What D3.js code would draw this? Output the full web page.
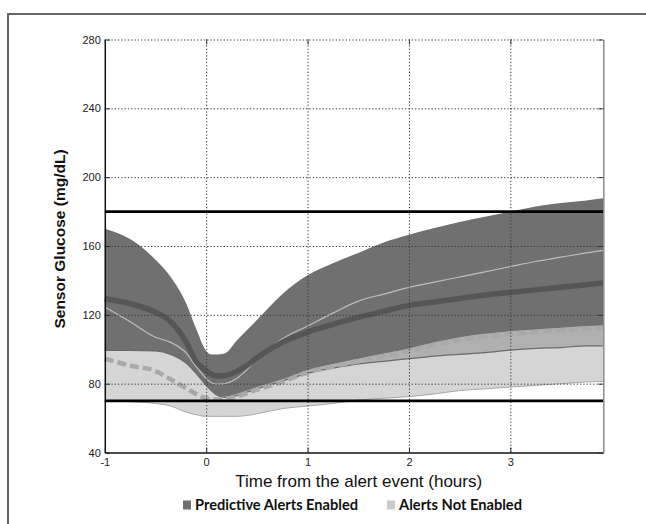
<!DOCTYPE html>
<html>
<head>
<meta charset="utf-8">
<script src="https://cdn.jsdelivr.net/npm/d3@7/dist/d3.min.js"></script>
<style>
  html, body { margin: 0; padding: 0; background: #fff; overflow: hidden; }
  svg { display: block; }
</style>
</head>
<body>
<svg id="chart" width="646" height="524"></svg>
<script>
// ---- data (hours from alert event, sensor glucose mg/dL) ----
const hours = [-1, -0.75, -0.5, -0.35, -0.2, -0.1, 0, 0.05, 0.1, 0.18, 0.3, 0.4, 0.5, 0.75, 1, 1.25, 1.5, 1.75, 2, 2.25, 2.5, 2.75, 3, 3.25, 3.5, 3.75, 3.917];

// Predictive Alerts Enabled band (dark)
const enabledUpper = [170, 164, 152, 142, 127, 112, 99, 97, 97, 97.5, 105, 111, 117, 132, 143, 150, 156, 162, 166.5, 170.5, 174, 177, 180, 183, 185, 186.5, 187.7];
const enabledLower = [99.3, 99.3, 99, 97, 92, 86, 79, 76, 73.5, 72, 73, 75, 77, 81.5, 86, 89, 91.5, 93, 94.5, 96, 97, 98, 99.5, 100.5, 101, 102, 102];
// Alerts Not Enabled band (light)
const notEnabledUpper = [99.3, 99.3, 99, 97, 92, 86, 79, 76, 73.5, 72.5, 74, 76, 78, 82.5, 88, 91.5, 94.5, 97.5, 100.5, 104, 107, 109, 110.5, 111.5, 112.5, 113.5, 114];
const notEnabledLower = [70, 69.5, 68.5, 67, 63.5, 62, 61, 61, 61, 61, 61, 61.5, 62.5, 65.5, 67, 68.5, 70.5, 71.5, 72.5, 74, 76, 77, 78, 79, 80, 81, 81.3];
// central curves
const enabledMedian = [129.5, 126.5, 121.5, 116, 104.5, 93, 87.5, 85.5, 84.5, 84.8, 87, 90.5, 95, 104, 110, 114.5, 118.5, 122, 125.5, 127.5, 129.5, 131.5, 133, 134.5, 136, 137.5, 138.5];
const enabledThin = [124.5, 116, 107, 104, 98, 90, 83, 80.5, 79.8, 80, 83, 88, 94, 106, 113.5, 121, 128, 132, 136, 139, 142, 145, 148, 151, 153.5, 156, 157.5];
const notEnabledMedian = [94.5, 90.5, 87.3, 82.5, 77.5, 74, 71.5, 71, 70.8, 71, 72.5, 74.5, 76.5, 81, 86.5, 90, 93, 96, 99, 102.5, 105.5, 107.5, 109, 110, 111, 112, 112.5];

// thresholds and ticks
const thresholds = [180, 70];
const yTicks = [40, 80, 120, 160, 200, 240, 280];
const xTicks = [-1, 0, 1, 2, 3];
const legendLabels = ["Predictive Alerts Enabled", "Alerts Not Enabled"];
const xTitle = "Time from the alert event (hours)";
const yTitle = "Sensor Glucose (mg/dL)";

// ---- drawing ----
const svg = d3.select("#chart");
const L = 104.8, R = 603.3, T = 39.5, B = 452.5;
const x = d3.scaleLinear().domain([-1, 3.917]).range([L, R]);
const y = d3.scaleLinear().domain([40, 280]).range([B, T]);

// outer frame (left and top edges visible only)
svg.append("path").attr("d", "M8,530V14H660").attr("fill", "none")
  .attr("stroke", "#666").attr("stroke-width", 2);

const DARK = "#707070";
const idx = d3.range(hours.length);
const curve = d3.curveMonotoneX;

const area = (lo, hi) => d3.area().curve(curve)
  .x(i => x(hours[i])).y0(i => y(lo[i])).y1(i => y(hi[i]));
const line = (v) => d3.line().curve(curve).x(i => x(hours[i])).y(i => y(v[i]));

const plot = svg.append("g");
plot.append("path").attr("d", area(enabledLower, enabledUpper)(idx)).attr("fill", DARK);
plot.append("path").attr("d", area(notEnabledLower, notEnabledUpper)(idx))
  .attr("fill", "rgb(199,199,199)").attr("fill-opacity", 0.745);
plot.append("path").attr("d", line(enabledLower)(idx)).attr("fill", "none")
  .attr("stroke", "#6a6a6a").attr("stroke-width", 1.2);
plot.append("path").attr("d", line(notEnabledLower)(idx)).attr("fill", "none")
  .attr("stroke", "#a8a8a8").attr("stroke-width", 1);

// grid
const grid = svg.append("g");
grid.append("g").attr("transform", `translate(${L},0)`)
  .call(d3.axisLeft(y).tickValues(yTicks.slice(1)).tickSize(-(R - L)).tickFormat(""))
  .call(g => g.select(".domain").remove())
  .selectAll("line").attr("stroke", "#3a3a3a").attr("stroke-dasharray", "1.3,2").attr("stroke-width", 1);
grid.append("g").attr("transform", `translate(0,${B})`)
  .call(d3.axisBottom(x).tickValues(xTicks.slice(1)).tickSize(-(B - T)).tickFormat(""))
  .call(g => g.select(".domain").remove())
  .selectAll("line").attr("stroke", "#3a3a3a").attr("stroke-dasharray", "1.3,2").attr("stroke-width", 1);

// curves
plot.append("path").attr("d", line(enabledThin)(idx)).attr("fill", "none")
  .attr("stroke", "#bdbdbd").attr("stroke-width", 1.2);
plot.append("path").attr("d", line(enabledMedian)(idx)).attr("fill", "none")
  .attr("stroke", "#565656").attr("stroke-width", 5.5);
plot.append("path").attr("d", line(notEnabledMedian)(idx)).attr("fill", "none")
  .attr("stroke", "#a9a9a9").attr("stroke-width", 4.5).attr("stroke-dasharray", "9,4");

// thresholds
svg.append("g").selectAll("line").data(thresholds).join("line")
  .attr("x1", L).attr("x2", R).attr("y1", d => y(d)).attr("y2", d => y(d))
  .attr("stroke", "#000").attr("stroke-width", 2.6);

// axes
const fontTick = "'Liberation Sans', Arial, sans-serif";
const fmt = d => String(d);
const ax = svg.append("g");
ax.append("g").attr("transform", `translate(${L},0)`)
  .call(d3.axisLeft(y).tickValues(yTicks).tickSize(-5).tickSizeOuter(0).tickPadding(4).tickFormat(fmt))
  .call(g => g.selectAll("text").attr("font-family", fontTick).attr("font-size", 11).attr("fill", "#222"))
  .call(g => g.select(".domain").attr("stroke", "#111").attr("stroke-width", 1.5))
  .call(g => g.selectAll("line").attr("stroke", "#222"));
ax.append("g").attr("transform", `translate(0,${B})`)
  .call(d3.axisBottom(x).tickValues(xTicks).tickSize(-5).tickSizeOuter(0).tickPadding(6).tickFormat(fmt))
  .call(g => g.selectAll("text").attr("font-family", fontTick).attr("font-size", 11).attr("fill", "#222"))
  .call(g => g.select(".domain").attr("stroke", "#111").attr("stroke-width", 1.5))
  .call(g => g.selectAll("line").attr("stroke", "#222"));
ax.append("g").attr("transform", `translate(${R},0)`)
  .call(d3.axisRight(y).tickValues(yTicks).tickSize(-5).tickSizeOuter(0).tickFormat(""))
  .call(g => g.select(".domain").attr("stroke", "#8a8a8a").attr("stroke-width", 1.5))
  .call(g => g.selectAll("line").attr("stroke", "#333"));
ax.append("g").attr("transform", `translate(0,${T})`)
  .call(d3.axisTop(x).tickValues(xTicks).tickSize(-5).tickSizeOuter(0).tickFormat(""))
  .call(g => g.select(".domain").remove())
  .call(g => g.selectAll("line").attr("stroke", "#333"));

// titles
svg.append("text").attr("x", 358.7).attr("y", 487).attr("text-anchor", "middle")
  .attr("font-family", fontTick).attr("font-size", 17).attr("fill", "#111").text(xTitle);
svg.append("text").attr("transform", "translate(65,239) rotate(-90)").attr("text-anchor", "middle")
  .attr("font-family", fontTick).attr("font-size", 15.5).attr("font-weight", "bold").attr("fill", "#111").text(yTitle);

// legend
const legendX = [183, 387];
const legendW = [163, 123];
const legendColors = [DARK, "#cbcbcb"];
const lg = svg.append("g").selectAll("g").data(legendLabels).join("g");
lg.append("rect").attr("x", (d, i) => legendX[i]).attr("y", 500.5).attr("width", 8).attr("height", 9)
  .attr("fill", (d, i) => legendColors[i]);
lg.append("text").attr("x", (d, i) => legendX[i] + 12).attr("y", 510)
  .attr("font-family", "Lato, 'Open Sans', sans-serif").attr("font-weight", "bold").attr("font-size", 14.5)
  .attr("fill", "#111").attr("textLength", (d, i) => legendW[i]).attr("lengthAdjust", "spacingAndGlyphs")
  .text(d => d);
</script>
</body>
</html>
